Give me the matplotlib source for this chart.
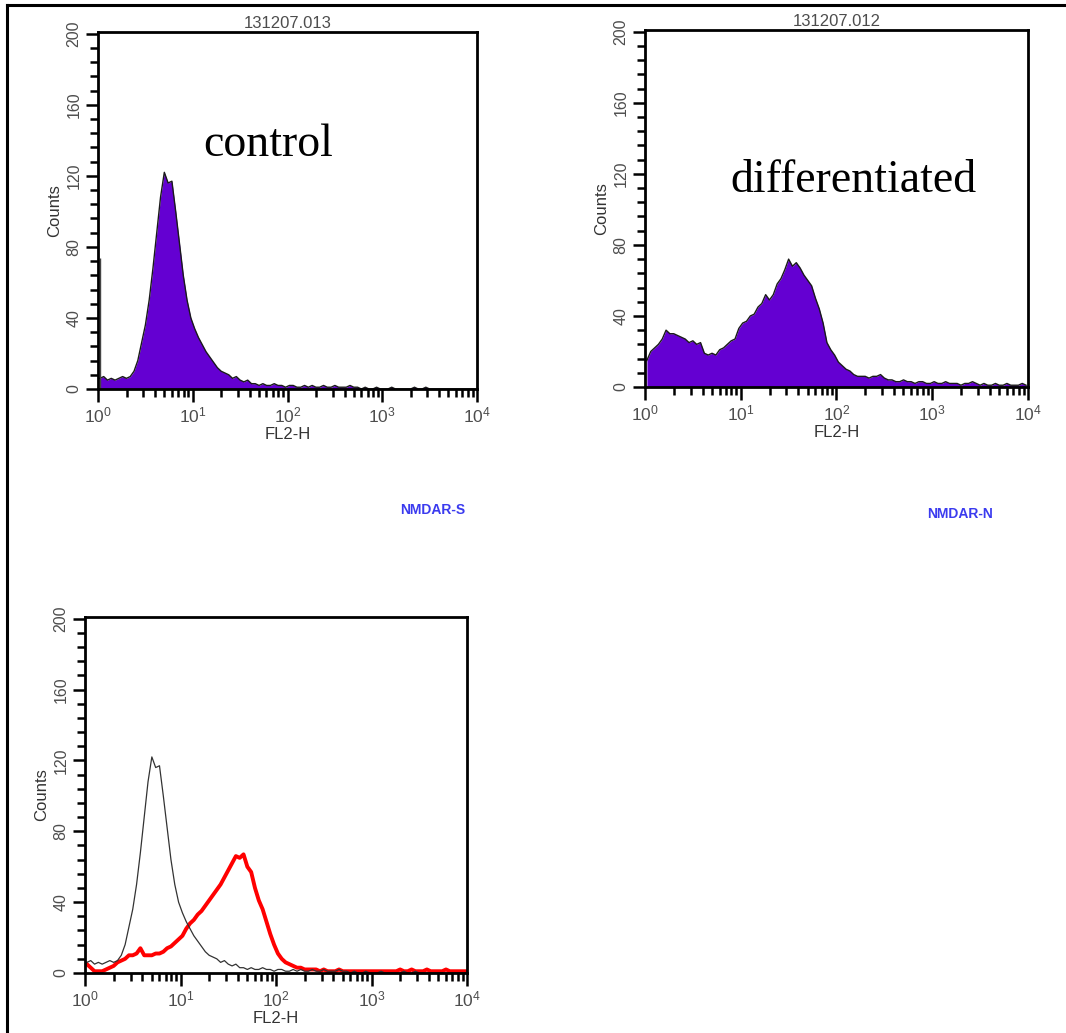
import numpy as np
import matplotlib.pyplot as plt
from matplotlib.ticker import MultipleLocator, LogLocator, LogFormatterMathtext, NullFormatter
from matplotlib.lines import Line2D

plt.rcParams['font.family'] = ['Liberation Sans', 'DejaVu Sans']
plt.rcParams['mathtext.default'] = 'regular'

#---datos---#
bin_step = 0.04  # decadas por canal agrupado (4 decadas, 100 canales)

control = [6, 7, 5, 6, 5, 6, 7, 6, 7,
           10, 16, 26, 36, 50, 68, 88, 108, 122, 116, 117, 100, 82, 64, 50, 40,
           34, 29, 25, 21, 18, 15, 12, 10, 9, 8, 6, 7, 5, 4, 5, 3,
           3, 2, 3, 2, 2, 3, 2, 2, 1, 2,
           2, 1, 1, 2, 1, 2, 1, 1, 2, 1, 1, 2, 1, 1, 1, 2, 1,
           1, 0, 1, 0, 0, 1, 0, 0, 0, 1, 0, 0, 0, 0, 0, 1, 0, 0, 1, 0,
           0, 0, 0, 0, 0, 0, 0, 0, 0, 0, 0, 0]
control_first_channel = 74
control_first_pos = 1.04

differentiated = [15, 20, 22, 24, 27, 32, 30, 30, 29, 28, 27, 25, 26, 24, 25,
                  19, 18, 19, 18, 21, 22, 24, 26, 27, 33, 36, 37, 40, 41, 45,
                  47, 52, 49, 52, 58, 61, 66, 72, 68, 70, 67, 63, 60, 57, 50,
                  44, 36, 25, 21, 18, 14, 12, 10, 9, 7, 6, 6, 6, 5, 6, 6, 7, 5, 4, 4, 3,
                  3, 4, 3, 3, 2, 3, 3, 2, 2, 3, 2, 2, 3, 2, 2, 2, 1, 2, 2, 3,
                  2, 1, 2, 1, 1, 2, 1, 1, 2, 1, 1, 1, 2, 1]

overlay_red = [5, 3, 1, 1, 1, 2, 3, 4, 6, 7, 8, 10, 10, 11, 14,
               10, 10, 10, 11, 11, 12, 14, 15, 17, 19, 21, 25, 28, 30, 33,
               35, 38, 41, 44, 47, 50, 54, 58, 62, 66, 65, 67, 60, 57, 48,
               41, 36, 29, 22, 16, 11, 8, 6, 5, 4, 3,
               3, 2, 2, 2, 2, 1, 2, 1, 1, 1, 2, 1, 1, 1, 1, 1, 1, 1, 1, 1,
               1, 1, 1, 1, 1, 1, 2, 1, 1, 2, 1, 1, 1, 2, 1, 1, 1, 1, 2, 1,
               1, 1, 1, 1]

titulos = ['131207.013', '131207.012']
etiquetas = ['control', 'differentiated']
marcadores = ['NMDAR-S', 'NMDAR-N']

# centro de cada canal en escala log
canal = 10 ** ((np.arange(len(control)) + 0.5) * bin_step)

morado = '#6400d2'
gris = '#4d4d4d'

W, H = 1066, 1033
fig = plt.figure(figsize=(W / 100, H / 100), dpi=100)


def ejes_px(l, t, r, b):
    return fig.add_axes([l / W, 1 - b / H, (r - l) / W, (b - t) / H])


def estilo(ax):
    ax.set_xscale('log')
    ax.set_xlim(1, 1e4)
    ax.set_ylim(0, 201)
    ax.yaxis.set_major_locator(MultipleLocator(40))
    ax.yaxis.set_minor_locator(MultipleLocator(8))
    ax.xaxis.set_major_locator(LogLocator(10))
    ax.xaxis.set_minor_locator(LogLocator(10, subs=np.arange(2, 10)))
    ax.xaxis.set_major_formatter(LogFormatterMathtext())
    ax.xaxis.set_minor_formatter(NullFormatter())
    for s in ax.spines.values():
        s.set_linewidth(2)
    ax.tick_params(which='major', length=9, width=1.8, direction='out',
                   labelcolor=gris, pad=3)
    ax.tick_params(which='minor', length=5.5, width=1.8, direction='out')
    ax.tick_params(axis='x', labelsize=12.5)
    ax.tick_params(axis='y', labelrotation=90, labelsize=11.5)
    for lab in ax.get_yticklabels():
        lab.set_va('center')
    ax.set_ylabel('Counts', fontsize=12, color='#333333', labelpad=3)
    ax.set_xlabel('FL2-H', fontsize=12, color='#333333', labelpad=1)


#---panel 1: control---#
ax1 = ejes_px(98, 32, 477, 389)
ax1.fill_between(canal, control, 0, color=morado, lw=0)
ax1.plot(canal, control, color='#1a1a1a', lw=1)
ax1.vlines(control_first_pos, 0, control_first_channel, color='#444444', lw=1)
estilo(ax1)
ax1.set_title(titulos[0], fontsize=12, color=gris, pad=3)

#---panel 2: diferenciado---#
ax2 = ejes_px(645, 30, 1028, 387)
ax2.fill_between(canal, differentiated, 0, color=morado, lw=0)
ax2.plot(canal, differentiated, color='#1a1a1a', lw=1)
estilo(ax2)
ax2.set_title(titulos[1], fontsize=12, color=gris, pad=3)

#---panel 3: superpuesto---#
ax3 = ejes_px(85, 617, 467, 973)
ax3.plot(canal, overlay_red, color='#ff0000', lw=2.8)
ax3.plot(canal, control, color='#333333', lw=0.9)
estilo(ax3)

#---textos---#
fig.text(268 / W, 1 - 156 / H, etiquetas[0], family='Liberation Serif',
         fontsize=33, ha='center', va='baseline')
fig.text(853 / W, 1 - 192 / H, etiquetas[1], family='Liberation Serif',
         fontsize=33, ha='center', va='baseline')
fig.text(433 / W, 1 - 510 / H, marcadores[0], color='#3b3bef', fontsize=10,
         fontweight='bold', ha='center', va='center')
fig.text(960 / W, 1 - 514 / H, marcadores[1], color='#3b3bef', fontsize=10,
         fontweight='bold', ha='center', va='center')

#---marco---#
fig.add_artist(Line2D([7 / W, 7 / W], [0, 1 - 5 / H], color='black', lw=2.2))
fig.add_artist(Line2D([7 / W, 1], [1 - 5 / H, 1 - 5 / H], color='black', lw=2.2))

fig.savefig('out.png', dpi=100)
